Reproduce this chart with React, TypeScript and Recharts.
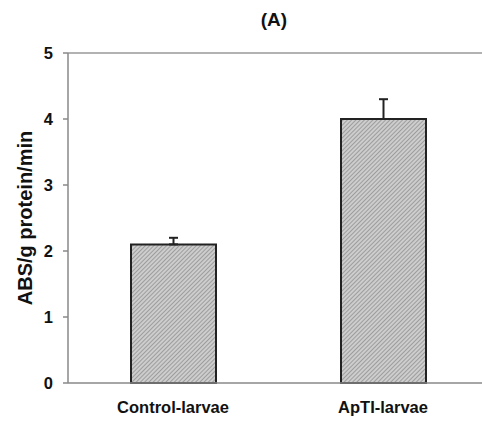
import React from "react";
import { BarChart, Bar, XAxis, YAxis, ErrorBar, ReferenceLine } from "recharts";

const categories = ["Control-larvae", "ApTI-larvae"];
const values = [2.1, 4.0];
const upperErrors = [0.1, 0.3];
const yTicks = [0, 1, 2, 3, 4, 5];

const data = categories.map((name, i) => ({
  name,
  value: values[i],
  err: [0, upperErrors[i]],
}));

const font = "'Liberation Sans', Arial, sans-serif";

export default function App() {
  return (
    <div
      style={{
        position: "absolute",
        left: 0,
        top: 0,
        width: 482,
        height: 424,
        overflow: "hidden",
        background: "#fff",
        fontFamily: font,
      }}
    >
      <div
        style={{
          position: "absolute",
          left: 224,
          width: 100,
          top: 9,
          textAlign: "center",
          fontWeight: "bold",
          fontSize: 19,
          color: "#111",
        }}
      >
        (A)
      </div>
      <BarChart
        width={500}
        height={424}
        data={data}
        margin={{ top: 53, right: 12, bottom: 11, left: 0 }}
        barSize={85}
      >
        <defs>
          <pattern id="hatch" width="3" height="3" patternUnits="userSpaceOnUse" patternTransform="rotate(45)">
            <rect width="3" height="3" fill="#cdcdcd" />
            <line x1="0" y1="0" x2="0" y2="3" stroke="#7c7c7c" strokeWidth="1.2" />
          </pattern>
        </defs>
        <XAxis
          dataKey="name"
          height={30}
          axisLine={{ stroke: "#888", strokeWidth: 1.5 }}
          tickLine={false}
          tickSize={0}
          tickMargin={18}
          tick={{ fill: "#111", fontSize: 16.5, fontWeight: "bold", fontFamily: font }}
        />
        <YAxis
          width={68}
          domain={[0, 5]}
          ticks={yTicks}
          interval={0}
          axisLine={{ stroke: "#888", strokeWidth: 1.5 }}
          tickLine={{ stroke: "#888", strokeWidth: 1.5 }}
          tickSize={5}
          tickMargin={10}
          tick={{ fill: "#111", fontSize: 16.5, fontWeight: "bold", fontFamily: font }}
          label={{
            content: () => (
              <text
                x={25}
                y={218}
                transform="rotate(-90, 25, 218)"
                textAnchor="middle"
                dominantBaseline="central"
                fontSize={20}
                fontWeight="bold"
                fontFamily={font}
                fill="#111"
              >
                ABS/g protein/min
              </text>
            ),
          }}
        />
        <ReferenceLine y={5} stroke="#999" strokeWidth={1.5} />
        <Bar dataKey="value" fill="url(#hatch)" stroke="#222" strokeWidth={2} isAnimationActive={false}>
          <ErrorBar dataKey="err" width={4.5} stroke="#222" strokeWidth={2} direction="y" />
        </Bar>
      </BarChart>
    </div>
  );
}
